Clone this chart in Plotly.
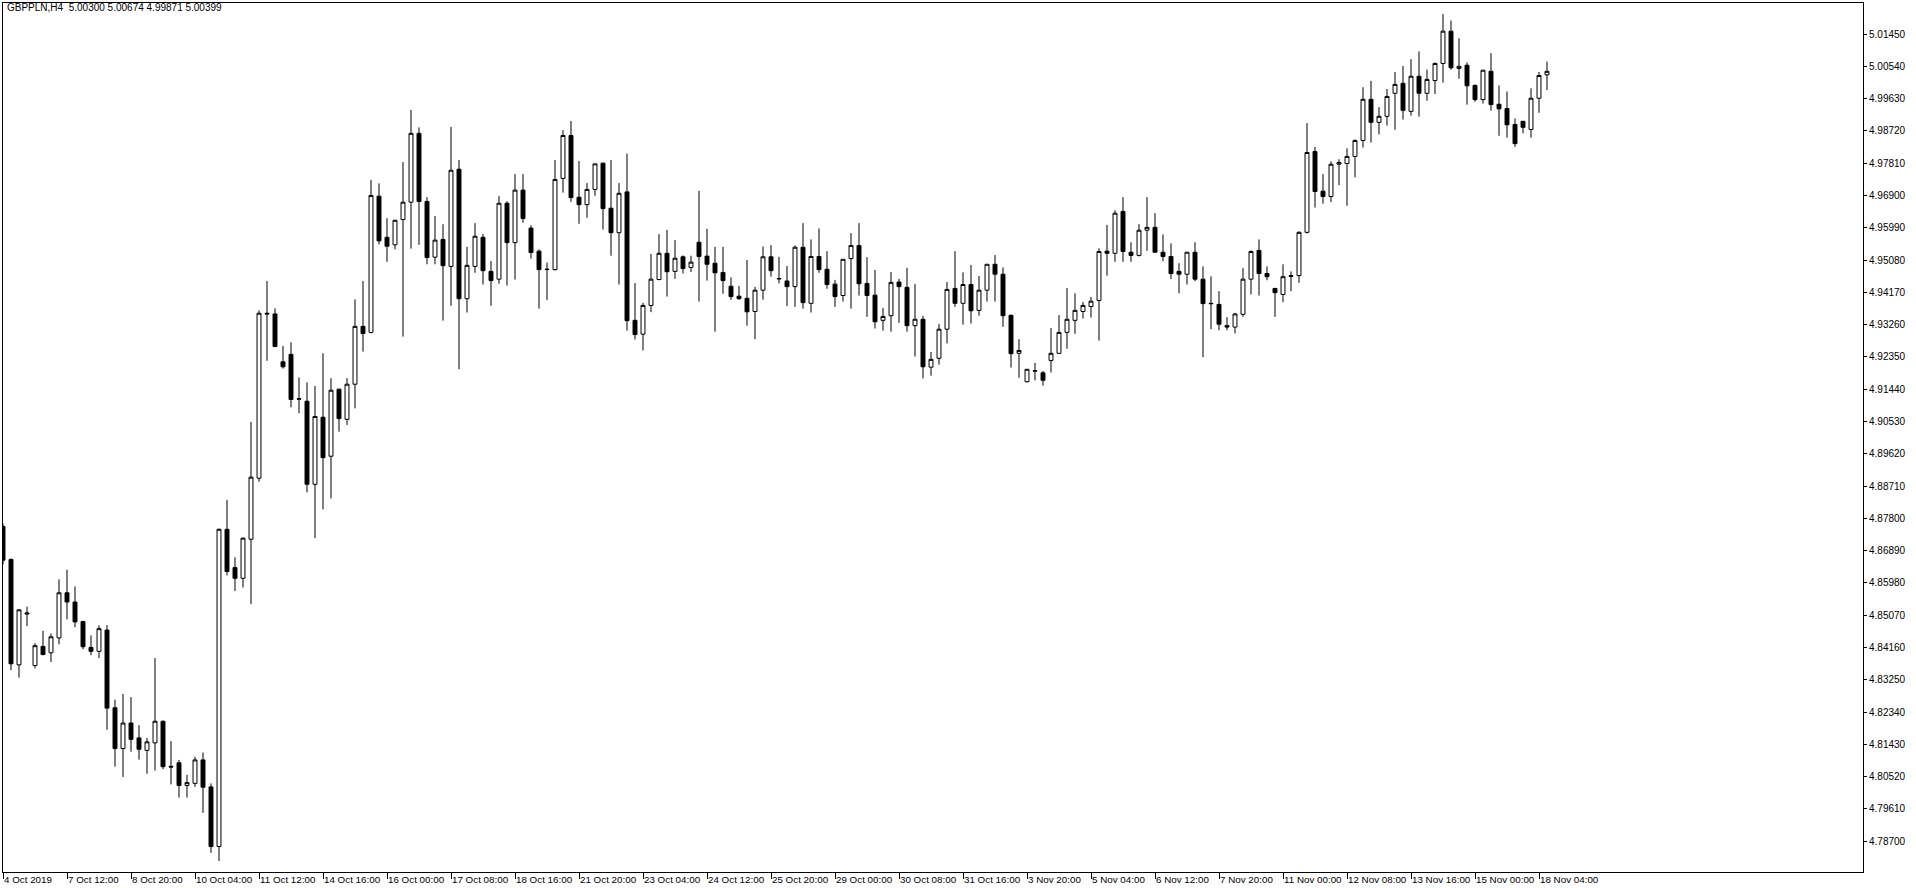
import plotly.graph_objects as go

bar_index = list(range(194))

open_prices = [
    4.8757, 4.8664, 4.8367, 4.8510, 4.8365, 4.8419, 4.8401, 4.8443, 4.8570, 4.8544,
    4.8489, 4.8416, 4.8405, 4.8465, 4.8246, 4.8131, 4.8203, 4.8161, 4.8126, 4.8147,
    4.8208, 4.8081, 4.8091, 4.8027, 4.8033, 4.8099, 4.8023, 4.7855, 4.8749, 4.8641,
    4.8611, 4.8721, 4.8893, 4.9358, 4.9356, 4.9221, 4.9242, 4.9117, 4.9110, 4.8876,
    4.9065, 4.8955, 4.9144, 4.9059, 4.9158, 4.9321, 4.9304, 4.9688, 4.9572, 4.9551,
    4.9622, 4.9671, 4.9865, 4.9673, 4.9516, 4.9566, 4.9490, 4.9764, 4.9399, 4.9490,
    4.9572, 4.9476, 4.9454, 4.9668, 4.9557, 4.9705, 4.9598, 4.9533, 4.9481, 4.9481,
    4.9738, 4.9859, 4.9685, 4.9664, 4.9707, 4.9781, 4.9654, 4.9585, 4.9700, 4.9338,
    4.9299, 4.9380, 4.9453, 4.9527, 4.9476, 4.9517, 4.9487, 4.9558, 4.9519, 4.9499,
    4.9473, 4.9434, 4.9406, 4.9400, 4.9363, 4.9423, 4.9517, 4.9456, 4.9449, 4.9433,
    4.9544, 4.9386, 4.9518, 4.9482, 4.9440, 4.9408, 4.9512, 4.9549, 4.9442, 4.9409,
    4.9338, 4.9351, 4.9446, 4.9431, 4.9323, 4.9341, 4.9206, 4.9231, 4.9313, 4.9428,
    4.9386, 4.9439, 4.9366, 4.9423, 4.9496, 4.9468, 4.9352, 4.9245, 4.9165, 4.9196,
    4.9190, 4.9225, 4.9245, 4.9304, 4.9338, 4.9363, 4.9377, 4.9394, 4.9533, 4.9527,
    4.9645, 4.9530, 4.9521, 4.9592, 4.9600, 4.9530, 4.9518, 4.9476, 4.9468, 4.9530,
    4.9454, 4.9386, 4.9383, 4.9323, 4.9319, 4.9355, 4.9454, 4.9535, 4.9470, 4.9428,
    4.9411, 4.9464, 4.9464, 4.9586, 4.9814, 4.9702, 4.9687, 4.9778, 4.9780, 4.9800,
    4.9845, 4.9961, 4.9896, 4.9913, 4.9978, 5.0006, 4.9927, 5.0026, 4.9978, 5.0014,
    5.0062, 5.0153, 5.0048, 5.0057, 5.0000, 4.9960, 5.0040, 4.9947, 4.9935, 4.9890,
    4.9899, 4.9876, 4.9964, 5.00300,
]

high_prices = [
    4.8765, 4.8667, 4.8524, 4.8531, 4.8428, 4.8463, 4.8455, 4.8608, 4.8635, 4.8588,
    4.8491, 4.8450, 4.8478, 4.8479, 4.8269, 4.8285, 4.8276, 4.8197, 4.8161, 4.8386,
    4.8210, 4.8152, 4.8099, 4.8057, 4.8108, 4.8120, 4.8033, 4.8751, 4.8832, 4.8670,
    4.8726, 4.9052, 4.9366, 4.9449, 4.9372, 4.9266, 4.9276, 4.9177, 4.9163, 4.9153,
    4.9245, 4.9175, 4.9145, 4.9175, 4.9397, 4.9449, 4.9734, 4.9724, 4.9626, 4.9621,
    4.9784, 4.9931, 4.9882, 4.9685, 4.9632, 4.9609, 4.9883, 4.9790, 4.9545, 4.9612,
    4.9581, 4.9505, 4.9688, 4.9674, 4.9750, 4.9750, 4.9606, 4.9538, 4.9501, 4.9790,
    4.9874, 4.9900, 4.9787, 4.9725, 4.9779, 4.9782, 4.9790, 4.9725, 4.9808, 4.9443,
    4.9387, 4.9525, 4.9581, 4.9593, 4.9564, 4.9521, 4.9520, 4.9703, 4.9596, 4.9545,
    4.9545, 4.9459, 4.9435, 4.9508, 4.9432, 4.9546, 4.9550, 4.9517, 4.9491, 4.9549,
    4.9612, 4.9566, 4.9597, 4.9533, 4.9452, 4.9510, 4.9584, 4.9612, 4.9516, 4.9480,
    4.9373, 4.9474, 4.9455, 4.9486, 4.9440, 4.9350, 4.9249, 4.9328, 4.9446, 4.9533,
    4.9473, 4.9494, 4.9463, 4.9496, 4.9522, 4.9487, 4.9355, 4.9285, 4.9200, 4.9218,
    4.9195, 4.9316, 4.9353, 4.9429, 4.9414, 4.9390, 4.9404, 4.9541, 4.9607, 4.9648,
    4.9685, 4.9558, 4.9609, 4.9685, 4.9640, 4.9580, 4.9555, 4.9499, 4.9530, 4.9558,
    4.9490, 4.9462, 4.9420, 4.9347, 4.9359, 4.9485, 4.9535, 4.9566, 4.9490, 4.9429,
    4.9496, 4.9476, 4.9589, 4.9894, 4.9827, 4.9750, 4.9786, 4.9792, 4.9823, 4.9848,
    4.9995, 5.0013, 4.9939, 4.9990, 5.0038, 5.0055, 5.0074, 5.0096, 5.0045, 5.0065,
    5.0201, 5.0183, 5.0133, 5.0065, 5.0003, 5.0043, 5.0091, 5.0000, 4.9983, 4.9907,
    4.9899, 4.9992, 5.0038, 5.00674,
]

low_prices = [
    4.8650, 4.8352, 4.8331, 4.8476, 4.8357, 4.8394, 4.8375, 4.8425, 4.8495, 4.8473,
    4.8411, 4.8394, 4.8386, 4.8184, 4.8080, 4.8051, 4.8122, 4.8100, 4.8060, 4.8069,
    4.8073, 4.8030, 4.7993, 4.7993, 4.8023, 4.7950, 4.7837, 4.7814, 4.8619, 4.8575,
    4.8585, 4.8538, 4.8883, 4.9224, 4.9263, 4.9202, 4.9093, 4.9076, 4.8853, 4.8724,
    4.8805, 4.8836, 4.9024, 4.9043, 4.9090, 4.9250, 4.9301, 4.9552, 4.9503, 4.9538,
    4.9292, 4.9540, 4.9551, 4.9496, 4.9496, 4.9337, 4.9379, 4.9200, 4.9360, 4.9472,
    4.9439, 4.9379, 4.9441, 4.9436, 4.9453, 4.9613, 4.9512, 4.9371, 4.9395, 4.9478,
    4.9698, 4.9672, 4.9610, 4.9627, 4.9689, 4.9594, 4.9520, 4.9439, 4.9309, 4.9284,
    4.9253, 4.9361, 4.9451, 4.9405, 4.9455, 4.9470, 4.9474, 4.9391, 4.9450, 4.9306,
    4.9413, 4.9396, 4.9396, 4.9323, 4.9285, 4.9396, 4.9461, 4.9442, 4.9378, 4.9376,
    4.9371, 4.9360, 4.9472, 4.9427, 4.9376, 4.9391, 4.9371, 4.9408, 4.9348, 4.9315,
    4.9309, 4.9306, 4.9331, 4.9306, 4.9236, 4.9174, 4.9182, 4.9213, 4.9273, 4.9376,
    4.9326, 4.9329, 4.9351, 4.9391, 4.9391, 4.9320, 4.9205, 4.9176, 4.9163, 4.9169,
    4.9154, 4.9191, 4.9244, 4.9258, 4.9300, 4.9343, 4.9346, 4.9281, 4.9464, 4.9503,
    4.9503, 4.9503, 4.9518, 4.9534, 4.9529, 4.9504, 4.9454, 4.9414, 4.9439, 4.9448,
    4.9234, 4.9313, 4.9310, 4.9310, 4.9301, 4.9348, 4.9411, 4.9408, 4.9451, 4.9348,
    4.9389, 4.9420, 4.9444, 4.9583, 4.9656, 4.9667, 4.9671, 4.9719, 4.9661, 4.9741,
    4.9825, 4.9839, 4.9862, 4.9887, 4.9875, 4.9904, 4.9915, 4.9912, 4.9957, 4.9976,
    5.0008, 5.0044, 5.0019, 4.9946, 4.9954, 4.9949, 4.9929, 4.9858, 4.9853, 4.9827,
    4.9865, 4.9853, 4.9923, 4.99871,
]

close_prices = [
    4.8662, 4.8370, 4.8522, 4.8513, 4.8421, 4.8396, 4.8446, 4.8570, 4.8544, 4.8488,
    4.8418, 4.8405, 4.8469, 4.8245, 4.8131, 4.8203, 4.8157, 4.8129, 4.8150, 4.8208,
    4.8080, 4.8079, 4.8027, 4.8035, 4.8099, 4.8022, 4.7855, 4.8749, 4.8630, 4.8611,
    4.8724, 4.8896, 4.9358, 4.9356, 4.9264, 4.9207, 4.9115, 4.9116, 4.8876, 4.9067,
    4.8951, 4.9141, 4.9061, 4.9158, 4.9321, 4.9301, 4.9690, 4.9562, 4.9547, 4.9620,
    4.9671, 4.9865, 4.9673, 4.9515, 4.9564, 4.9492, 4.9761, 4.9399, 4.9493, 4.9575,
    4.9478, 4.9450, 4.9668, 4.9557, 4.9705, 4.9625, 4.9529, 4.9481, 4.9482, 4.9735,
    4.9859, 4.9684, 4.9664, 4.9707, 4.9779, 4.9653, 4.9585, 4.9696, 4.9337, 4.9298,
    4.9380, 4.9454, 4.9527, 4.9475, 4.9513, 4.9484, 4.9502, 4.9518, 4.9496, 4.9472,
    4.9450, 4.9405, 4.9399, 4.9362, 4.9423, 4.9517, 4.9478, 4.9455, 4.9433, 4.9544,
    4.9388, 4.9518, 4.9481, 4.9439, 4.9405, 4.9510, 4.9549, 4.9441, 4.9408, 4.9334,
    4.9349, 4.9445, 4.9433, 4.9323, 4.9341, 4.9207, 4.9228, 4.9313, 4.9425, 4.9386,
    4.9439, 4.9365, 4.9423, 4.9496, 4.9468, 4.9351, 4.9244, 4.9253, 4.9200, 4.9195,
    4.9169, 4.9245, 4.9304, 4.9341, 4.9366, 4.9380, 4.9392, 4.9532, 4.9527, 4.9640,
    4.9532, 4.9521, 4.9592, 4.9600, 4.9530, 4.9518, 4.9470, 4.9468, 4.9530, 4.9454,
    4.9385, 4.9385, 4.9327, 4.9319, 4.9356, 4.9454, 4.9532, 4.9470, 4.9461, 4.9416,
    4.9461, 4.9462, 4.9586, 4.9811, 4.9701, 4.9687, 4.9778, 4.9783, 4.9800, 4.9845,
    4.9961, 4.9896, 4.9913, 4.9969, 5.0003, 4.9930, 5.0026, 4.9978, 5.0017, 5.0062,
    5.0153, 5.0050, 5.0054, 4.9999, 4.9960, 5.0043, 4.9946, 4.9934, 4.9889, 4.9836,
    4.9882, 4.9964, 5.0028, 5.00399,
]

x_tick_bars = [0, 8, 16, 24, 32, 40, 48, 56, 64, 72, 80, 88, 96, 104, 112, 120,
               128, 136, 144, 152, 160, 168, 176, 184, 192]
x_tick_labels = [
    "4 Oct 2019", "7 Oct 12:00", "8 Oct 20:00", "10 Oct 04:00", "11 Oct 12:00",
    "14 Oct 16:00", "16 Oct 00:00", "17 Oct 08:00", "18 Oct 16:00", "21 Oct 20:00",
    "23 Oct 04:00", "24 Oct 12:00", "25 Oct 20:00", "29 Oct 00:00", "30 Oct 08:00",
    "31 Oct 16:00", "3 Nov 20:00", "5 Nov 04:00", "6 Nov 12:00", "7 Nov 20:00",
    "11 Nov 00:00", "12 Nov 08:00", "13 Nov 16:00", "15 Nov 00:00", "18 Nov 04:00",
]

y_tick_vals = [4.78700, 4.79610, 4.80520, 4.81430, 4.82340, 4.83250, 4.84160,
               4.85070, 4.85980, 4.86890, 4.87800, 4.88710, 4.89620, 4.90530,
               4.91440, 4.92350, 4.93260, 4.94170, 4.95080, 4.95990, 4.96900,
               4.97810, 4.98720, 4.99630, 5.00540, 5.01450]
y_tick_labels = ["4.78700", "4.79610", "4.80520", "4.81430", "4.82340", "4.83250",
                 "4.84160", "4.85070", "4.85980", "4.86890", "4.87800", "4.88710",
                 "4.89620", "4.90530", "4.91440", "4.92350", "4.93260", "4.94170",
                 "4.95080", "4.95990", "4.96900", "4.97810", "4.98720", "4.99630",
                 "5.00540", "5.01450"]

title_text = "GBPPLN,H4\u00a0 5.00300 5.00674 4.99871 5.00399"

FONT = "Liberation Sans, Arial, sans-serif"

fig = go.Figure(
    go.Candlestick(
        x=bar_index,
        open=open_prices,
        high=high_prices,
        low=low_prices,
        close=close_prices,
        increasing=dict(line=dict(color="black", width=1), fillcolor="white"),
        decreasing=dict(line=dict(color="black", width=1), fillcolor="black"),
        whiskerwidth=0,
        hoverinfo="skip",
        showlegend=False,
    )
)

annotations = [
    dict(x=b, xref="x", y=0, yref="paper", text=t, showarrow=False,
         xanchor="left", yanchor="top", xshift=-1, yshift=0,
         font=dict(family=FONT, size=9.8, color="black"))
    for b, t in zip(x_tick_bars, x_tick_labels)
]
annotations.append(
    dict(x=0, xref="paper", y=1, yref="paper", text=title_text, showarrow=False,
         xanchor="left", yanchor="top", xshift=2, yshift=3,
         font=dict(family=FONT, size=10, color="black"))
)

fig.update_layout(
    width=1916,
    height=888,
    margin=dict(l=3, r=53, t=3, b=16),
    paper_bgcolor="white",
    plot_bgcolor="white",
    showlegend=False,
    boxgap=0.3,
    boxgroupgap=0.3,
    xaxis=dict(
        range=[0, 232.5],
        showgrid=False, zeroline=False,
        showline=True, linecolor="black", linewidth=1, mirror=True,
        ticks="outside", ticklen=6, tickcolor="black", tickwidth=1,
        tickvals=x_tick_bars, ticktext=x_tick_labels,
        showticklabels=False,
        rangeslider=dict(visible=False),
        fixedrange=True,
    ),
    yaxis=dict(
        side="right",
        range=[4.77831, 5.02324],
        showgrid=False, zeroline=False,
        showline=True, linecolor="black", linewidth=1, mirror=True,
        ticks="outside", ticklen=3, tickcolor="black", tickwidth=1,
        tickvals=y_tick_vals, ticktext=y_tick_labels,
        tickfont=dict(family=FONT, size=10, color="black"),
        fixedrange=True,
    ),
    annotations=annotations,
)

fig.write_html("out.html", config={"displayModeBar": False, "staticPlot": True},
               post_script="document.body.style.margin='0';document.body.style.overflow='hidden';")
